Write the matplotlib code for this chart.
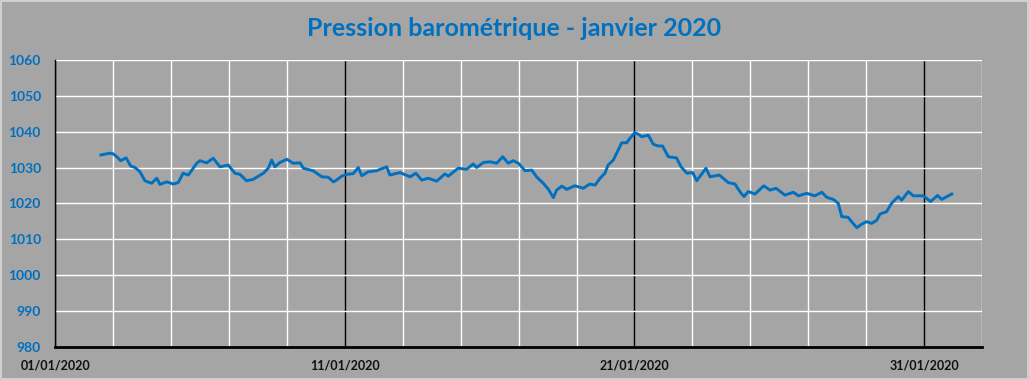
import pandas as pd
import matplotlib.pyplot as plt
import matplotlib.dates as mdates
from matplotlib.ticker import FixedLocator
from matplotlib.patches import Rectangle

# Pressure readings: days since 01/01/2020 00:00 and hPa values
day_offsets = [1.57, 1.88, 2.00, 2.17, 2.25, 2.44, 2.60, 2.75, 2.92, 3.09, 3.32, 3.50, 3.61, 3.84,
               4.07, 4.24, 4.41, 4.59, 4.88, 4.99, 5.22, 5.45, 5.68, 5.97, 6.20, 6.37, 6.60, 6.83,
               7.18, 7.35, 7.47, 7.58, 7.75, 7.99, 8.21, 8.45, 8.56, 8.90, 9.20, 9.42, 9.60, 9.71,
               9.89, 10.06, 10.29, 10.46, 10.58, 10.80, 11.09, 11.44, 11.55, 11.90, 12.25, 12.45,
               12.65, 12.88, 13.17, 13.45, 13.57, 13.91, 14.20, 14.43, 14.55, 14.78, 15.01, 15.24,
               15.45, 15.64, 15.81, 15.99, 16.22, 16.45, 16.62, 16.85, 17.02, 17.20, 17.31, 17.49,
               17.66, 17.94, 18.23, 18.46, 18.64, 18.81, 18.98, 19.09, 19.27, 19.44, 19.56, 19.73,
               19.84, 20.01, 20.13, 20.25, 20.48, 20.65, 20.82, 20.97, 21.17, 21.45, 21.61, 21.81,
               22.01, 22.15, 22.47, 22.61, 22.93, 23.24, 23.47, 23.64, 23.78, 23.93, 24.16, 24.47,
               24.68, 24.89, 25.20, 25.49, 25.66, 25.95, 26.23, 26.47, 26.64, 26.87, 27.04, 27.16,
               27.38, 27.50, 27.68, 27.85, 28.02, 28.19, 28.37, 28.48, 28.71, 28.88, 29.11, 29.23,
               29.46, 29.63, 29.98, 30.23, 30.47, 30.61, 30.96]
pressure = [1033.5, 1034.0, 1033.8, 1032.6, 1031.9, 1032.7, 1030.4, 1030.0, 1028.8, 1026.3, 1025.6,
            1027.0, 1025.3, 1026.0, 1025.4, 1025.8, 1028.4, 1027.9, 1031.2, 1031.9, 1031.3, 1032.6,
            1030.2, 1030.7, 1028.4, 1028.1, 1026.3, 1026.7, 1028.4, 1029.8, 1032.1, 1030.2, 1031.4,
            1032.3, 1031.2, 1031.3, 1029.8, 1029.1, 1027.4, 1027.3, 1026.0, 1026.5, 1027.6, 1028.1,
            1028.3, 1030.0, 1027.7, 1028.8, 1029.1, 1030.2, 1027.9, 1028.6, 1027.4, 1028.4, 1026.5,
            1027.0, 1026.2, 1028.2, 1027.6, 1029.8, 1029.5, 1031.0, 1030.0, 1031.4, 1031.6, 1031.2,
            1033.0, 1031.2, 1031.9, 1031.2, 1029.1, 1029.3, 1027.4, 1025.6, 1024.0, 1021.6, 1023.7,
            1024.8, 1023.9, 1024.9, 1024.2, 1025.4, 1025.1, 1027.0, 1028.4, 1030.7, 1032.1, 1034.9,
            1036.9, 1036.9, 1038.1, 1039.7, 1039.3, 1038.6, 1039.0, 1036.5, 1036.0, 1036.0, 1033.0,
            1032.7, 1030.2, 1028.4, 1028.6, 1026.3, 1029.8, 1027.4, 1027.9, 1025.8, 1025.4, 1023.3,
            1021.9, 1023.3, 1022.6, 1024.9, 1023.7, 1024.2, 1022.3, 1023.1, 1022.1, 1022.8, 1022.1,
            1023.1, 1021.7, 1021.1, 1020.0, 1016.3, 1016.1, 1014.9, 1013.2, 1014.2, 1014.9, 1014.4,
            1015.3, 1017.0, 1017.7, 1020.0, 1021.9, 1020.9, 1023.3, 1022.1, 1022.1, 1020.5, 1022.2,
            1021.1, 1022.6]
tick_dates = ['2020-01-01', '2020-01-11', '2020-01-21', '2020-01-31']

times = pd.Timestamp('2020-01-01') + pd.to_timedelta(day_offsets, unit='D')

bg = '#a5a5a5'
blue = '#0070c0'
plt.rcParams['font.family'] = ['Lato', 'DejaVu Sans']

fig = plt.figure(figsize=(10.29, 3.80), dpi=100, facecolor=bg)
ax = fig.add_axes([0.0539, 0.0876, 0.9003, 0.7545])
ax.set_facecolor(bg)

ax.plot(times, pressure, color=blue, linewidth=2.1, zorder=3)

ax.set_xlim(pd.Timestamp('2020-01-01'), pd.Timestamp('2020-02-02'))
ax.set_ylim(980, 1060)
ax.set_yticks(range(980, 1061, 10))
ax.xaxis.set_major_locator(FixedLocator(mdates.date2num(pd.to_datetime(tick_dates))))
ax.xaxis.set_minor_locator(mdates.DayLocator(interval=2))
ax.xaxis.set_major_formatter(mdates.DateFormatter('%d/%m/%Y'))

ax.set_axisbelow(True)
ax.grid(which='major', axis='x', color='black', linewidth=1.0)
ax.grid(which='minor', axis='x', color='white', linewidth=1.0)
ax.grid(which='major', axis='y', color='white', linewidth=1.0)

ax.tick_params(axis='both', which='both', length=0)
ax.tick_params(axis='y', pad=10.5, labelsize=10, labelcolor=blue)
ax.tick_params(axis='x', pad=9, labelsize=9, labelcolor='#111111')
for lab in ax.get_yticklabels() + ax.get_xticklabels():
    lab.set_fontweight('bold')

for side in ['top', 'right']:
    ax.spines[side].set_visible(False)
ax.spines['left'].set_color('black')
ax.spines['left'].set_linewidth(1.0)
ax.spines['bottom'].set_color('black')
ax.spines['bottom'].set_linewidth(2.0)

fig.text(0.5, 0.925, 'Pression barométrique - janvier 2020', ha='center', va='center',
         fontsize=18, fontweight='bold', color=blue)

fig.patches.append(Rectangle((0.0005, 0.0015), 0.999, 0.997, transform=fig.transFigure,
                             fill=False, edgecolor='#d9d9d9', linewidth=1.2))

fig.savefig('out.png', dpi=100, facecolor=bg)
